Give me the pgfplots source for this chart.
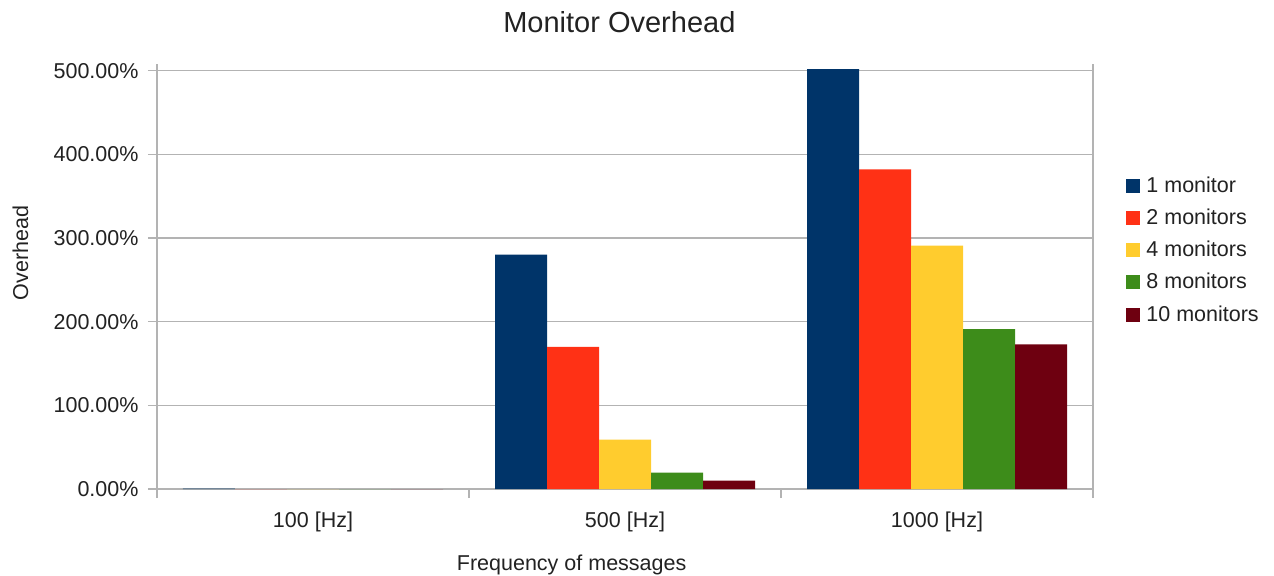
\documentclass[border=0pt]{standalone}
\usepackage{pgfplots}
\pgfplotsset{compat=1.18}
\usepackage{fontspec}
\setmainfont{Liberation Sans}

\definecolor{gridgray}{HTML}{B3B3B3}
\definecolor{txt}{HTML}{222222}
\definecolor{mblue}{HTML}{003469}
\definecolor{mred}{HTML}{FF3115}
\definecolor{myellow}{HTML}{FFCC2E}
\definecolor{mgreen}{HTML}{3D8C1A}
\definecolor{mdark}{HTML}{6E0010}

\tikzset{catlabel/.style={font=\fontsize{21.5bp}{25bp}\selectfont, text=txt, anchor=center, yshift=-33bp}}

\begin{document}
\begin{tikzpicture}
\begin{axis}[
  scale only axis,
  width=936bp, height=425bp,
  at={(0,0)}, anchor=south west,
  clip=false,
  xmin=-0.5, xmax=2.5,
  ymin=0, ymax=508,
  ybar=0pt, bar width=52bp,
  axis x line*=bottom, axis y line*=left,
  axis line style={-, draw=gridgray, line width=1.6bp},
  xtick={-0.5,0.5,1.5,2.5}, xticklabels={},
  ytick={0,100,...,500},
  yticklabel={\pgfmathprintnumber[fixed,fixed zerofill,precision=2]{\tick}\%},
  /pgf/number format/assume math mode=true,
  tick align=outside, major tick length=9bp,
  tick style={draw=gridgray, line width=1.6bp},
  ymajorgrids, grid style={draw=gridgray, line width=1.6bp},
  ticklabel style={font=\fontsize{21.5bp}{25bp}\selectfont, text=txt},
  yticklabel style={xshift=-6bp},
  title={Monitor Overhead},
  title style={font=\fontsize{29bp}{33bp}\selectfont, text=txt,
    at={(axis description cs:0.494,1.085)}, anchor=center},
  xlabel={Frequency of messages},
  xlabel style={font=\fontsize{21.5bp}{25bp}\selectfont, text=txt,
    at={(axis description cs:0.443,-0.178)}, anchor=center},
  ylabel={Overhead},
  ylabel style={font=\fontsize{21.5bp}{25bp}\selectfont, text=txt,
    at={(axis description cs:-0.146,0.555)}, anchor=center},
  legend cell align=left,
  legend image code/.code={\fill[#1] (0bp,-8.5bp) rectangle (14bp,5.5bp);},
  legend style={at={(axis description cs:1.0355,0.565)}, anchor=west,
    draw=none, fill=none, inner sep=0pt, row sep=15.75bp,
    font=\fontsize{21.5bp}{25bp}\selectfont, text=txt,
    nodes={inner xsep=6bp, inner ysep=0pt, text height=16bp, text depth=0bp}},
]
\addplot[fill=mblue, draw=none] coordinates {(0,0.5) (1,280) (2,502)};
\addplot[fill=mred, draw=none] coordinates {(0,0) (1,170) (2,382)};
\addplot[fill=myellow, draw=none] coordinates {(0,0) (1,59) (2,291)};
\addplot[fill=mgreen, draw=none] coordinates {(0,0) (1,19.5) (2,191)};
\addplot[fill=mdark, draw=none] coordinates {(0,0) (1,10) (2,173)};
\legend{1 monitor,2 monitors,4 monitors,8 monitors,10 monitors}

% right edge of the plot area
\draw[gridgray, line width=1.6bp] (rel axis cs:1,0) -- (rel axis cs:1,1);

% category names
\node[catlabel] at (axis cs:0,0) {100 [Hz]};
\node[catlabel] at (axis cs:1,0) {500 [Hz]};
\node[catlabel] at (axis cs:2,0) {1000 [Hz]};
\end{axis}
\pgfresetboundingbox
\path (-157bp,-87bp) rectangle (1117bp,489bp);
\end{tikzpicture}
\end{document}
